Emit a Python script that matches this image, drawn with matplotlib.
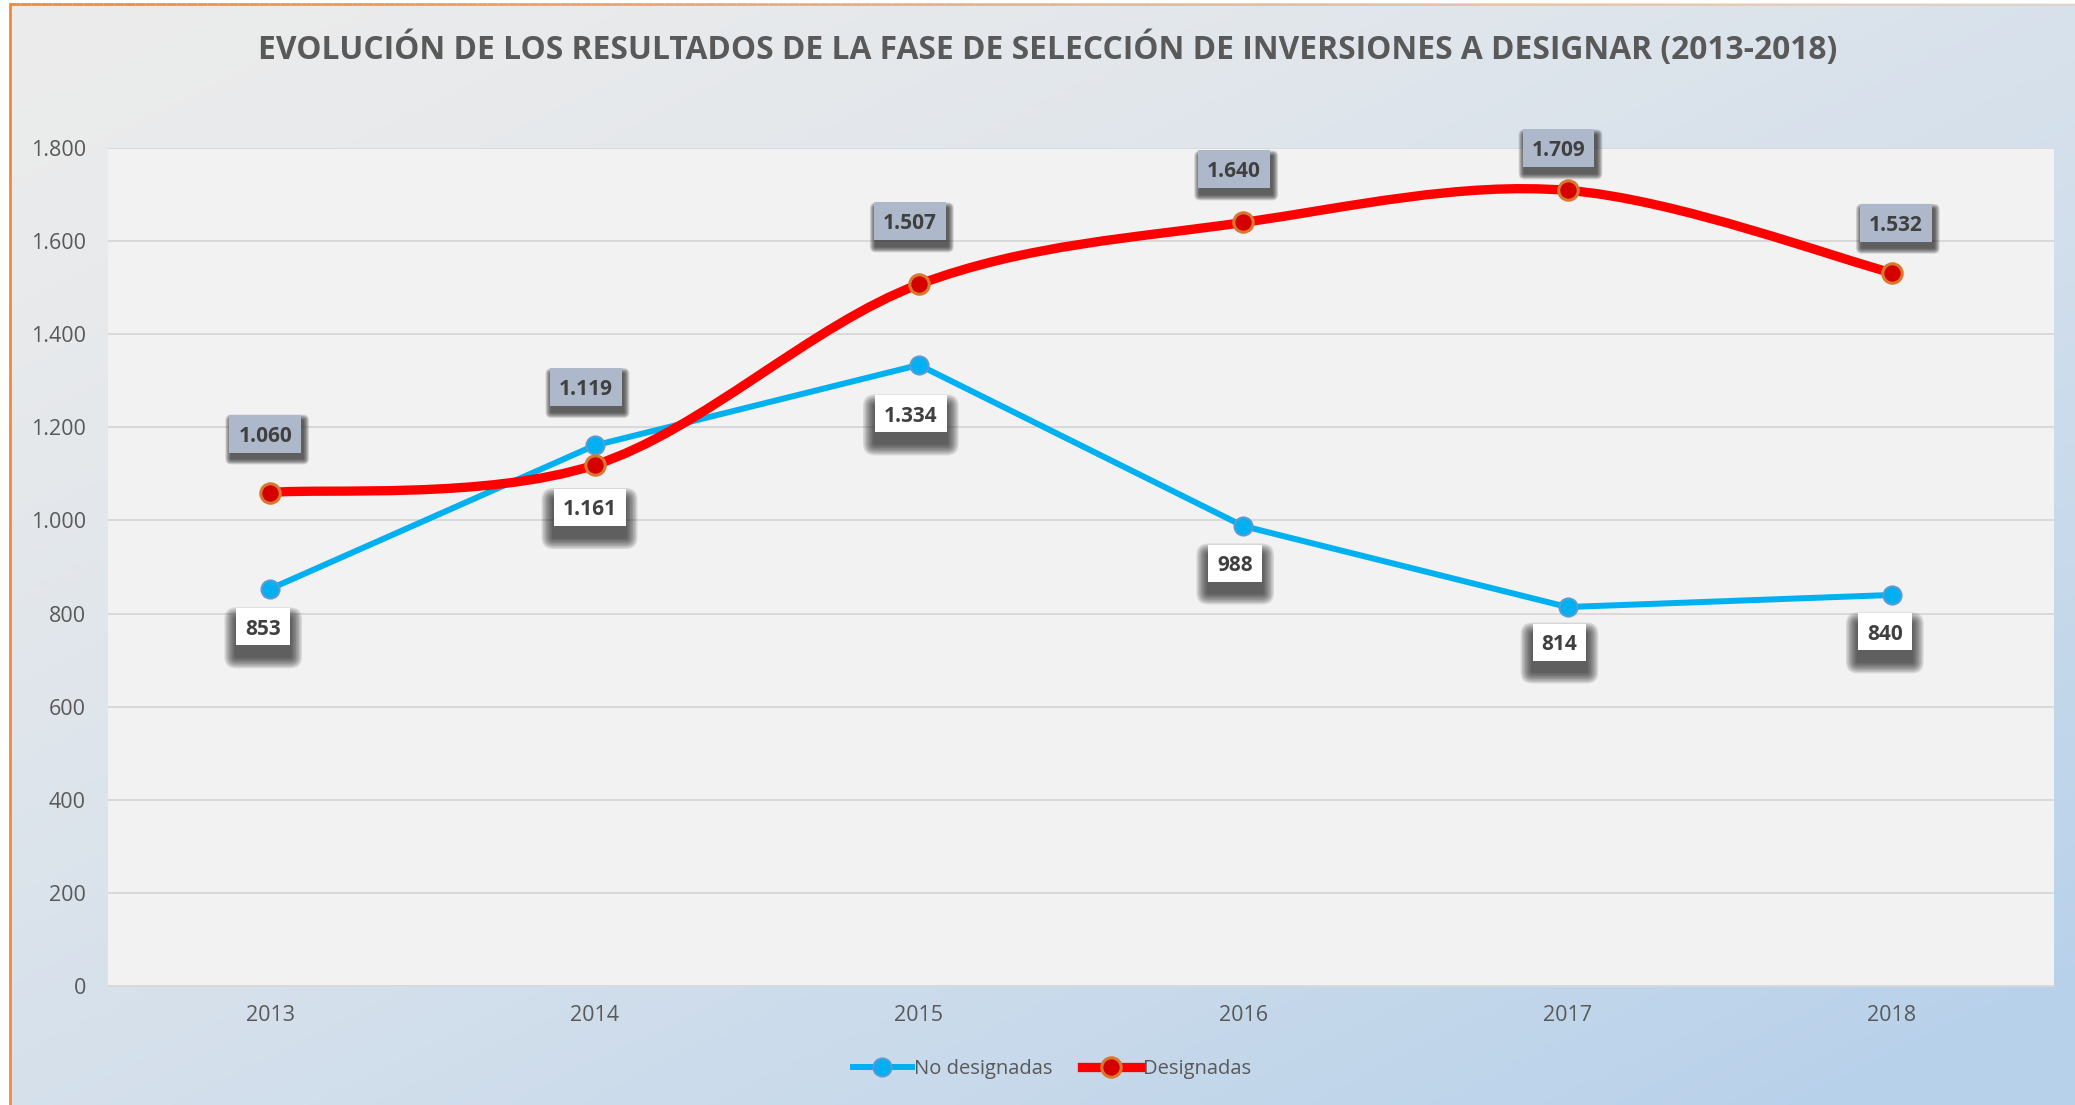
import numpy as np
import matplotlib
matplotlib.use("Agg")
import matplotlib.pyplot as plt
from matplotlib.path import Path
from matplotlib.patches import PathPatch, FancyBboxPatch
from matplotlib.lines import Line2D
from matplotlib.collections import LineCollection
from matplotlib.ticker import FuncFormatter, MultipleLocator
from matplotlib.transforms import IdentityTransform, ScaledTranslation

# data
years = ["2013", "2014", "2015", "2016", "2017", "2018"]
no_designadas = [853, 1161, 1334, 988, 814, 840]
designadas = [1060, 1119, 1507, 1640, 1709, 1532]

title = "EVOLUCIÓN DE LOS RESULTADOS DE LA FASE DE SELECCIÓN DE INVERSIONES A DESIGNAR (2013-2018)"

# label placement (pixels, relative to the point)
red_offsets = [(-5, 59), (-9, 78), (-9, 63), (-9, 53), (-9, 42), (4, 50)]
blue_offsets = [(-7, -38), (-5, -62), (-8, -49), (-8, -37), (-8, -35), (-7, -37)]

W, H = 2075, 1105
plt.rcParams['font.family'] = ['Open Sans', 'DejaVu Sans']

fig = plt.figure(figsize=(W / 100, H / 100), dpi=100)
fig.patch.set_facecolor("white")

# background gradient (grey top-left -> light blue bottom-right)
bg = fig.add_axes([10 / W, 0, 1 - 10 / W, 1 - 4 / H], zorder=-10)
gx, gy = np.meshgrid(np.linspace(0, 1, 400), np.linspace(0, 1, 220))
t = np.clip((gx * 0.5 + gy * 0.55), 0, 1) ** 1.4
c0 = np.array([0.925, 0.925, 0.925])
c1 = np.array([0.72, 0.82, 0.92])
img = c0[None, None, :] * (1 - t[..., None]) + c1[None, None, :] * t[..., None]
bg.imshow(img, aspect="auto", extent=[0, 1, 0, 1], origin="upper")
bg.set_axis_off()

# orange frame on top and left
border = fig.add_axes([0, 0, 1, 1], zorder=-5)
border.set_xlim(0, W)
border.set_ylim(H, 0)
border.set_axis_off()
border.patch.set_alpha(0)
border.plot([10, 10], [4, H], color="#f08a3a", lw=2)
xs = np.linspace(10, W, 200)
segs = [[(xs[i], 4), (xs[i + 1], 4)] for i in range(len(xs) - 1)]
alphas = np.linspace(1, 0.15, len(segs))
cols = [(0.94, 0.54, 0.23, a) for a in alphas]
border.add_collection(LineCollection(segs, colors=cols, linewidths=2))

# plot area
ax = fig.add_axes([108 / W, 1 - 986 / H, (2054 - 108) / W, (986 - 148) / H])
ax.set_facecolor("#f2f2f2")
x = np.arange(len(years))
ax.set_xlim(-0.5, len(years) - 0.5)
ax.set_ylim(0, 1800)
ax.yaxis.set_major_locator(MultipleLocator(200))
ax.yaxis.set_major_formatter(FuncFormatter(lambda v, p: f"{int(v):,}".replace(",", ".")))
ax.set_xticks(x)
ax.set_xticklabels(years)
ax.grid(axis="y", color="#d9d9d9", lw=1.4)
ax.set_axisbelow(True)
for s in ["top", "right", "left"]:
    ax.spines[s].set_visible(False)
ax.spines["bottom"].set_color("#d9d9d9")
ax.spines["bottom"].set_linewidth(1.4)
ax.tick_params(axis="both", length=0, labelsize=15.5, labelcolor="#595959")
ax.tick_params(axis="x", pad=14)
ax.tick_params(axis="y", pad=16)

# blue straight line
ax.plot(x, no_designadas, color="#00b0f0", lw=4.3, marker="o", ms=13,
        mfc="#00b0f0", mec="#5b9bd5", mew=1.5, zorder=3, solid_capstyle="round")

# red smoothed line (catmull-rom style bezier, as excel does)
pts = np.column_stack([x, designadas]).astype(float)
ext = np.vstack([pts[0], pts, pts[-1]])
verts = [tuple(pts[0])]
codes = [Path.MOVETO]
for i in range(len(pts) - 1):
    p0, p1, p2, p3 = ext[i], ext[i + 1], ext[i + 2], ext[i + 3]
    verts += [tuple(p1 + (p2 - p0) / 6), tuple(p2 - (p3 - p1) / 6), tuple(p2)]
    codes += [Path.CURVE4] * 3
ax.add_patch(PathPatch(Path(verts, codes), fill=False, edgecolor="#ff0000",
                       lw=6.7, capstyle="round", zorder=4))
ax.plot(x, designadas, ls="none", marker="o", ms=14, mfc="#d40000",
        mec="#d9782f", mew=2.2, zorder=5)

renderer = fig.canvas.get_renderer()


def label(xv, yv, txt, off, face, sh_off, blur, box_h=37, pad_h=9):
    dx, dy = off
    t = ax.annotate(txt, (xv, yv), xytext=(dx, dy), textcoords="offset pixels",
                    ha="center", va="center_baseline", fontsize=15,
                    fontweight="bold", color="#404040", zorder=7)
    w = t.get_window_extent(renderer).width + 2 * pad_h
    # pixel coordinates around the data point
    tr = IdentityTransform() + ScaledTranslation(xv, yv, ax.transData)
    bx, by = dx - w / 2, dy - box_h / 2
    n = 8
    for k in range(n, 0, -1):
        r = blur * k / n
        ax.add_artist(FancyBboxPatch((bx + sh_off[0], by + sh_off[1]), w, box_h,
                                     boxstyle=f"round,pad={r},rounding_size={r}",
                                     mutation_scale=1, transform=tr, fc="#1a1a1a",
                                     ec="none", alpha=0.13, zorder=6, clip_on=False))
    ax.add_artist(FancyBboxPatch((bx, by), w, box_h, boxstyle="square,pad=0",
                                 transform=tr, fc=face, ec="none", zorder=6.5,
                                 clip_on=False))


def fmt(v):
    return f"{v:,}".replace(",", ".")


for i in range(len(years)):
    label(x[i], designadas[i], fmt(designadas[i]), red_offsets[i], "#adb9ca",
          (2, -6), 6, box_h=38)
    label(x[i], no_designadas[i], fmt(no_designadas[i]), blue_offsets[i], "white",
          (0, -11), 12)

fig.text(1048 / W, 1 - 49 / H, title, ha="center", va="center", fontsize=22.9,
         fontweight="bold", color="#595959")

handles = [
    Line2D([], [], color="#00b0f0", lw=4.3, marker="o", ms=13, mfc="#00b0f0",
           mec="#5b9bd5", mew=1.5),
    Line2D([], [], color="#ff0000", lw=6.7, marker="o", ms=14, mfc="#d40000",
           mec="#d9782f", mew=2.2),
]
fig.legend(handles, ["No designadas", "Designadas"], loc="center",
           bbox_to_anchor=(1052 / W, 1 - 1069 / H), ncol=2, frameon=False,
           fontsize=14.5, labelcolor="#595959", handlelength=2.9,
           handletextpad=0.1, columnspacing=1.5)

fig.savefig("out.png", dpi=100)
